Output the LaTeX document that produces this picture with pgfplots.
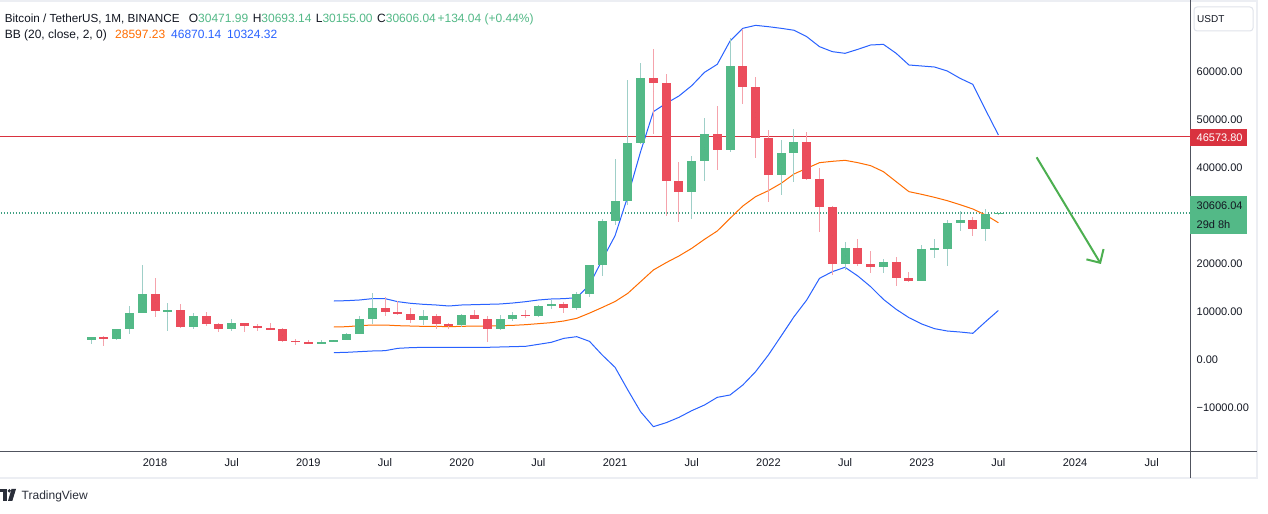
\documentclass[border=0pt]{standalone}
\usepackage{fontspec}
\setmainfont{Liberation Sans}
\usepackage{pgfplots}
\pgfplotsset{compat=1.18}
\usepackage{pgfplotstable}
\usepgfplotslibrary{fillbetween}
\usetikzlibrary{arrows.meta}

\definecolor{upc}{HTML}{53B987}
\definecolor{dnc}{HTML}{EB4D5C}
\definecolor{upw}{HTML}{9FCFC8}
\definecolor{dnw}{HTML}{F5A3AC}
\definecolor{bbblue}{HTML}{2962FF}
\definecolor{bborange}{HTML}{FF6D00}
\definecolor{bbfill}{HTML}{2196F3}
\definecolor{gridc}{HTML}{E3EAF2}
\definecolor{txt}{HTML}{131722}
\definecolor{axl}{HTML}{50535E}
\definecolor{framec}{HTML}{ECEEF3}
\definecolor{boxc}{HTML}{E0E3EB}
\definecolor{redl}{HTML}{D9323F}
\definecolor{dotg}{HTML}{3FA082}
\definecolor{arrg}{HTML}{4CAF50}
\definecolor{logoc}{HTML}{2A2E39}

% month index m: 0 = Jan 2018
\pgfplotstableread{
m o h l c
-5 4261.48 4745.42 3400.00 4724.89
-3 4378.49 6470.00 4110.00 6463.00
-2 6463.00 11300.03 5325.01 9838.96
-1 9837.00 19798.68 9722.00 13716.36
1 10285.10 11786.01 6000.01 10326.50
3 6922.00 9759.82 6430.00 9246.01
6 6391.08 8507.42 6070.00 7730.93
13 3434.10 4198.00 3400.00 3813.69
14 3814.26 4140.00 3782.04 4103.95
15 4102.44 5600.00 4067.00 5320.81
16 5321.94 9074.26 5316.20 8555.00
17 8555.00 13970.00 7444.58 10854.10
21 8289.97 10370.00 7300.00 9199.59
24 7195.24 9578.00 6871.04 9352.89
27 6412.14 9468.00 6150.11 8620.00
28 8620.00 10067.00 8117.00 9448.27
30 9138.08 11444.00 8893.03 11335.46
31 11335.46 12468.00 10525.00 11649.51
33 10776.59 14100.00 10374.00 13791.00
34 13791.00 19863.16 13195.05 19695.87
35 19695.87 29300.00 17572.33 28923.63
36 28923.63 41950.00 28130.00 33092.98
37 33092.97 58352.80 32296.16 45135.66
38 45134.11 61844.00 44950.53 58740.55
42 35045.00 42448.00 29278.00 41461.83
43 41461.84 50500.00 37332.70 47100.89
45 43820.01 67000.00 43283.03 61299.80
49 38466.90 45821.00 34322.28 43160.00
50 43160.00 48189.84 37155.00 45510.34
54 19942.21 24668.00 18781.00 23293.32
57 19422.61 21085.00 18190.00 20490.74
60 16541.77 23960.54 16499.01 23125.13
61 23125.13 25250.00 21351.07 23141.57
62 23141.57 29184.68 19549.09 28465.36
63 28465.36 31000.00 26942.82 29233.21
65 27210.36 31431.94 24800.00 30472.00
66 30471.99 30693.14 30155.00 30606.04
}\uptab

\pgfplotstableread{
m o h l c
-4 4689.89 4939.19 2817.00 4378.51
0 13715.65 17176.24 9035.00 10285.10
2 10326.50 11710.00 6600.10 6923.91
4 9246.01 10020.00 7032.95 7485.01
5 7485.01 7786.69 5750.00 6391.08
7 7735.67 7750.00 5880.00 7011.21
8 7011.21 7410.00 6111.00 6626.57
9 6626.57 7680.00 6205.00 6371.93
10 6369.52 6615.15 3652.66 4041.32
11 4041.27 4313.55 3156.26 3702.90
12 3701.23 4140.00 3349.92 3434.10
18 10854.10 13147.08 9080.10 10085.44
19 10085.01 12325.00 9320.00 9630.59
20 9630.59 10905.87 7710.00 8293.86
22 9196.67 9513.68 6515.00 7546.60
23 7546.48 7750.00 6435.00 7195.23
25 9351.71 10500.00 8445.92 8523.61
26 8523.61 9188.00 3782.13 6410.44
29 9448.27 10380.00 8833.00 9138.55
32 11649.51 12067.35 9825.00 10776.59
39 58739.46 64854.00 47044.01 57694.27
40 57697.25 59600.00 30000.00 37253.81
41 37253.82 41330.00 28805.00 35045.00
44 47100.89 52920.00 39600.00 43824.43
46 61299.81 69000.00 53256.64 56950.56
47 56950.56 59053.55 42000.30 46216.93
48 46216.93 47990.00 32917.17 38466.90
51 45510.35 47444.11 37578.20 37630.80
52 37631.83 40023.77 26700.00 31801.04
53 31801.05 31982.97 17622.00 19942.21
55 23296.36 25211.32 19520.00 20050.02
56 20048.44 22799.00 18125.98 19422.61
58 20490.74 21480.65 15476.00 17163.64
59 17165.53 18387.95 16256.30 16542.40
64 29233.20 29820.00 25811.46 27210.35
}\dntab

\pgfplotstableread{
m u b l
14 12290 6875 1530
15 12360 6940 1600
16 12500 7150 1740
17 12780 7290 1875
18 12780 7290 1940
19 12150 7150 2430
20 11810 7080 2570
21 11600 7010 2640
22 11460 7010 2640
23 11250 6940 2640
24 11460 7010 2640
25 11530 7080 2640
26 11600 7080 2640
27 11670 7150 2710
28 11875 7220 2780
29 12150 7360 2850
30 12500 7570 3260
31 12710 7780 3680
32 12780 8130 4510
33 12990 8680 4860
34 15660 9770 3890
35 20880 10950 1030
36 25880 12180 -1520
37 34100 13890 -6250
38 43420 16320 -10780
39 51740 18750 -13890
40 53470 20280 -13060
41 55000 21670 -11950
42 57150 23260 -10560
43 59930 25140 -9375
44 61600 26875 -7780
45 66460 29510 -7290
46 69100 32080 -5210
47 69720 34030 -2430
48 69440 35280 1040
49 69100 36810 5000
50 68700 38750 9000
51 67360 39930 12500
52 65280 41110 17010
53 64240 41390 18400
54 63890 41600 19310
55 64720 41110 17500
56 65625 40490 15280
57 65760 39240 12640
58 63890 37150 10560
59 61460 35070 8820
60 61250 34510 7500
61 61040 33890 6530
62 60210 33190 6040
63 58680 32360 5830
64 57430 31460 5560
65 52080 30210 7990
66 46870.14 28597.23 10324.32
}\bbtab

\pgfplotsset{
  candle/.style 2 args={only marks, mark size=0pt, mark options={draw=none, fill=none},
    error bars/.cd, y dir=both, y explicit, error mark=none,
    error bar style={draw=#1, line width=#2}},
}

\begin{document}
\begin{tikzpicture}
\fill[white] (0,0) rectangle (1268bp,514bp);
\begin{axis}[
  at={(0,63bp)}, anchor=south west,
  scale only axis, width=1190bp, height=451bp,
  xmin=-12.13, xmax=80.99, ymin=-18958, ymax=75000,
  axis line style={draw=none},
  major tick length=0pt,
  xtick={0,6,...,78},
  xticklabels={2018,Jul,2019,Jul,2020,Jul,2021,Jul,2022,Jul,2023,Jul,2024,Jul},
  ytick={-10000,0,10000,20000,40000,50000,60000},
  yticklabels={−10000.00,0.00,10000.00,20000.00,40000.00,50000.00,60000.00},
  extra y ticks={30000,70000},
  extra y tick labels={},
  extra y tick style={grid=major},
  yticklabel pos=right,
  xticklabel style={font=\fontsize{11bp}{13bp}\selectfont, text=txt, anchor=base, yshift=-16bp, inner sep=0pt},
  yticklabel style={font=\fontsize{11bp}{13bp}\selectfont, text=txt, anchor=west, inner sep=0pt, xshift=6.5bp},
  grid=major, grid style={gridc, line width=1bp},
]
% Bollinger band fill
\addplot[draw=none, name path=U, forget plot] table[x=m,y=u]{\bbtab};
\addplot[draw=none, name path=L, forget plot] table[x=m,y=l]{\bbtab};
\addplot[fill=bbfill, fill opacity=0.07, draw=none] fill between[of=U and L];
% Horizontal price lines
\addplot[redl, line width=0.9bp] coordinates {(-13,46573.8) (82,46573.8)};
\addplot[dotg, line width=1.2bp, dash pattern=on 1.2bp off 1.8bp] coordinates {(-13,30606.04) (82,30606.04)};
% Bands
\addplot[bbblue, line width=1bp] table[x=m,y=u]{\bbtab};
\addplot[bbblue, line width=1bp] table[x=m,y=l]{\bbtab};
\addplot[bborange, line width=1bp] table[x=m,y=b]{\bbtab};
% Wicks
\addplot[candle={upw}{1bp}]
  table[x=m, y expr={0.5*(\thisrow{h}+\thisrow{l})}, y error expr={0.5*(\thisrow{h}-\thisrow{l})}]{\uptab};
\addplot[candle={dnw}{1bp}]
  table[x=m, y expr={0.5*(\thisrow{h}+\thisrow{l})}, y error expr={0.5*(\thisrow{h}-\thisrow{l})}]{\dntab};
% Bodies
\addplot[candle={upc}{9bp}]
  table[x=m, y expr={0.5*(\thisrow{o}+\thisrow{c})}, y error expr={max(0.5*abs(\thisrow{c}-\thisrow{o}),150)}]{\uptab};
\addplot[candle={dnc}{9bp}]
  table[x=m, y expr={0.5*(\thisrow{o}+\thisrow{c})}, y error expr={max(0.5*abs(\thisrow{c}-\thisrow{o}),150)}]{\dntab};
% Arrow
\draw[arrg, line width=2bp, -{Straight Barb[length=10bp, width=20bp, line width=2bp]}]
  (axis cs:68.99,42230) -- (axis cs:74.02,20000);
\end{axis}

\begin{scope}[x=1bp, y=-1bp, shift={(0,514bp)}]
  % frame
  \draw[framec, line width=2bp] (0,1) -- (1257,1) -- (1257,478) -- (0,478);
  \draw[axl, line width=1bp] (1190.5,0) -- (1190.5,478);
  \draw[axl, line width=1bp] (0,451.5) -- (1257,451.5);
  % currency box
  \draw[boxc, line width=1bp, rounded corners=3bp] (1194,7) rectangle (1253,31);
  \node[anchor=west, inner sep=0, text=txt, font=\fontsize{10bp}{12bp}\selectfont] at (1197,19) {USDT};
  % price labels
  \fill[redl] (1190,129) rectangle (1247,146);
  \node[anchor=west, inner sep=0, text=white, font=\fontsize{11bp}{13bp}\selectfont] at (1196.5,137.5) {46573.80};
  \fill[upc] (1190,196) rectangle (1247,234);
  \node[anchor=base west, inner sep=0, text=txt, font=\fontsize{11bp}{13bp}\selectfont] at (1196.5,210) {30606.04};
  \node[anchor=base west, inner sep=0, text=txt, font=\fontsize{11bp}{13bp}\selectfont] at (1196.5,228.5) {29d 8h};
  % header
  \begin{scope}[every node/.style={anchor=base west, inner sep=0, text=txt, font=\fontsize{12bp}{14bp}\selectfont}]
    \node at (4.6,23) {\fontsize{11.7bp}{14bp}\selectfont Bitcoin / TetherUS, 1M, BINANCE};
    \node at (188.7,23) {O\textcolor{upc}{30471.99}};
    \node at (252.6,23) {H\textcolor{upc}{30693.14}};
    \node at (315.7,23) {L\textcolor{upc}{30155.00}};
    \node at (377,23) {C\textcolor{upc}{30606.04}};
    \node at (437.4,23) {\textcolor{upc}{+134.04 (+0.44\%)}};
    \node at (4.6,39) {BB (20, close, 2, 0)};
    \node at (115,39) {\textcolor{bborange}{28597.23}};
    \node at (171,39) {\textcolor{bbblue}{46870.14}};
    \node at (227,39) {\textcolor{bbblue}{10324.32}};
  \end{scope}
  % TradingView logo
  \fill[logoc] (0,489) rectangle (6.5,492.5);
  \fill[logoc] (2.8,489) rectangle (6.5,501);
  \fill[logoc] (9.3,490.8) circle (1.8);
  \fill[logoc] (11.5,489) -- (16,489) -- (12.3,501) -- (8,501) -- cycle;
  \node[anchor=base west, inner sep=0, text=logoc, font=\fontsize{12bp}{14bp}\selectfont] at (21.5,499.5) {TradingView};
\end{scope}
\pgfresetboundingbox
\path (0,0) rectangle (1268bp,514bp);
\end{tikzpicture}
\end{document}
